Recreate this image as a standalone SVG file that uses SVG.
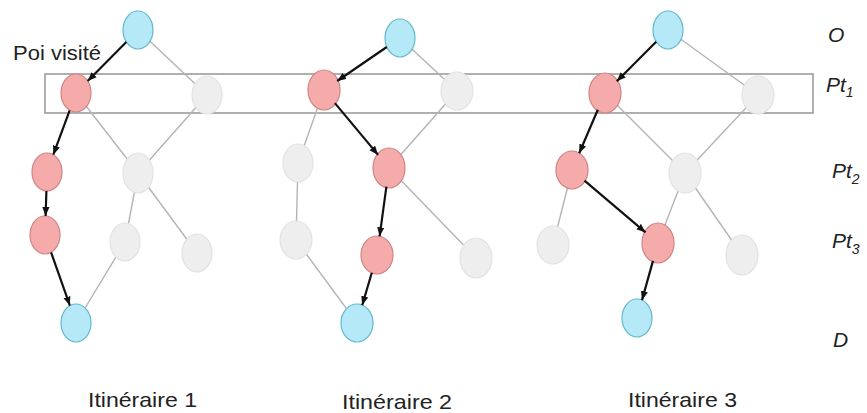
<svg xmlns="http://www.w3.org/2000/svg" width="867" height="413" viewBox="0 0 867 413">
<style>
.blue{fill:#b5e9f7;stroke:#62b9cc;stroke-width:1.2}
.red{fill:#f6abab;stroke:#cf8484;stroke-width:1.2}
.grey{fill:#eeeeee;stroke:#e2e2e2;stroke-width:1.2}
.gl{stroke:#b4b4b4;stroke-width:1.4;fill:none}
.ar{stroke:#111;stroke-width:2.2;fill:none;marker-end:url(#ah)}
.lbl{font-family:"Liberation Sans",Arial,sans-serif;fill:#222}
.lvl{font-family:"Liberation Sans",Arial,sans-serif;font-style:italic;fill:#222;font-size:21px}
</style>
<defs>
<marker id="ah" viewBox="0 0 10 8" refX="10" refY="4" markerWidth="9" markerHeight="8" markerUnits="userSpaceOnUse" orient="auto">
<path d="M0,0 L10,4 L0,8 z" fill="#111"/>
</marker>
</defs>
<rect x="45" y="74" width="768" height="39" fill="none" stroke="#9c9c9c" stroke-width="1.6"/>
<g id="connectors">
<g id="grey-edges">
<line class="gl" x1="138" y1="30" x2="207" y2="95"/>
<line class="gl" x1="76" y1="93" x2="138" y2="173"/>
<line class="gl" x1="207" y1="95" x2="138" y2="173"/>
<line class="gl" x1="138" y1="173" x2="125" y2="242"/>
<line class="gl" x1="138" y1="173" x2="197" y2="253"/>
<line class="gl" x1="125" y1="242" x2="76" y2="323"/>
<line class="gl" x1="400" y1="38" x2="457" y2="91"/>
<line class="gl" x1="324" y1="90" x2="298" y2="163"/>
<line class="gl" x1="457" y1="91" x2="389" y2="168"/>
<line class="gl" x1="298" y1="163" x2="296" y2="240"/>
<line class="gl" x1="389" y1="168" x2="476" y2="258"/>
<line class="gl" x1="296" y1="240" x2="357" y2="323"/>
<line class="gl" x1="668" y1="30" x2="758" y2="95"/>
<line class="gl" x1="605" y1="93" x2="685" y2="173"/>
<line class="gl" x1="758" y1="95" x2="685" y2="173"/>
<line class="gl" x1="572" y1="170" x2="553" y2="245"/>
<line class="gl" x1="685" y1="173" x2="658" y2="243"/>
<line class="gl" x1="685" y1="173" x2="742" y2="255"/>
</g>
</g>
<g id="it1-O"><ellipse class="blue" cx="138" cy="30" rx="15" ry="19"/></g>
<g id="it1-pt1a"><ellipse class="red" cx="76" cy="93" rx="15" ry="19"/></g>
<g id="it1-pt1b"><ellipse class="grey" cx="207" cy="95" rx="15" ry="19"/></g>
<g id="it1-pt2a"><ellipse class="red" cx="47" cy="172" rx="15" ry="19"/></g>
<g id="it1-pt2b"><ellipse class="grey" cx="138" cy="173" rx="15" ry="20"/></g>
<g id="it1-pt3a"><ellipse class="red" cx="45" cy="235" rx="15" ry="19"/></g>
<g id="it1-pt3b"><ellipse class="grey" cx="125" cy="242" rx="15" ry="19"/></g>
<g id="it1-pt3c"><ellipse class="grey" cx="197" cy="253" rx="15" ry="19"/></g>
<g id="it1-D"><ellipse class="blue" cx="76" cy="323" rx="15" ry="19"/></g>
<g id="it2-O"><ellipse class="blue" cx="400" cy="38" rx="15" ry="19"/></g>
<g id="it2-pt1a"><ellipse class="red" cx="324" cy="90" rx="16" ry="20"/></g>
<g id="it2-pt1b"><ellipse class="grey" cx="457" cy="91" rx="16" ry="19"/></g>
<g id="it2-pt2a"><ellipse class="grey" cx="298" cy="163" rx="15" ry="19"/></g>
<g id="it2-pt2b"><ellipse class="red" cx="389" cy="168" rx="16" ry="20"/></g>
<g id="it2-pt3a"><ellipse class="grey" cx="296" cy="240" rx="16" ry="19"/></g>
<g id="it2-pt3b"><ellipse class="red" cx="377" cy="255" rx="16" ry="19"/></g>
<g id="it2-pt3c"><ellipse class="grey" cx="476" cy="258" rx="16" ry="20"/></g>
<g id="it2-D"><ellipse class="blue" cx="357" cy="323" rx="16" ry="19"/></g>
<g id="it3-O"><ellipse class="blue" cx="668" cy="30" rx="15" ry="19"/></g>
<g id="it3-pt1a"><ellipse class="red" cx="605" cy="93" rx="16" ry="20"/></g>
<g id="it3-pt1b"><ellipse class="grey" cx="758" cy="95" rx="16" ry="19"/></g>
<g id="it3-pt2a"><ellipse class="red" cx="572" cy="170" rx="16" ry="19"/></g>
<g id="it3-pt2b"><ellipse class="grey" cx="685" cy="173" rx="16" ry="20"/></g>
<g id="it3-pt3a"><ellipse class="grey" cx="553" cy="245" rx="16" ry="19"/></g>
<g id="it3-pt3b"><ellipse class="red" cx="658" cy="243" rx="16" ry="20"/></g>
<g id="it3-pt3c"><ellipse class="grey" cx="742" cy="255" rx="16" ry="20"/></g>
<g id="it3-D"><ellipse class="blue" cx="637" cy="318" rx="15" ry="19"/></g>
<g id="path-arrows">
<line class="ar" x1="126.3" y1="41.9" x2="87.7" y2="81.1"/>
<line class="ar" x1="69.7" y1="110.3" x2="53.3" y2="154.7"/>
<line class="ar" x1="46.4" y1="191" x2="45.6" y2="216"/>
<line class="ar" x1="51.1" y1="252.4" x2="69.9" y2="305.6"/>
<line class="ar" x1="386.8" y1="47" x2="337.2" y2="81"/>
<line class="ar" x1="334.9" y1="103.1" x2="378.1" y2="154.9"/>
<line class="ar" x1="386.4" y1="186.7" x2="379.6" y2="236.3"/>
<line class="ar" x1="371.8" y1="272.8" x2="362.2" y2="305.2"/>
<line class="ar" x1="656.2" y1="41.8" x2="616.8" y2="81.2"/>
<line class="ar" x1="597.8" y1="109.7" x2="579.2" y2="153.3"/>
<line class="ar" x1="584.5" y1="180.6" x2="645.5" y2="232.4"/>
<line class="ar" x1="653" y1="260.9" x2="642" y2="300.1"/>
</g>
<g id="labels">
<text class="lbl" x="13" y="60" font-size="21" textLength="88" lengthAdjust="spacingAndGlyphs">Poi visité</text>
<text class="lbl" x="88" y="407" font-size="21" textLength="109" lengthAdjust="spacingAndGlyphs">Itinéraire 1</text>
<text class="lbl" x="342" y="409" font-size="21" textLength="110" lengthAdjust="spacingAndGlyphs">Itinéraire 2</text>
<text class="lbl" x="628" y="407" font-size="21" textLength="109" lengthAdjust="spacingAndGlyphs">Itinéraire 3</text>
<text class="lvl" x="828" y="42">O</text>
<text class="lvl" x="826" y="92">Pt<tspan font-size="14" dy="5">1</tspan></text>
<text class="lvl" x="832" y="178">Pt<tspan font-size="14" dy="6">2</tspan></text>
<text class="lvl" x="832" y="248">Pt<tspan font-size="14" dy="6">3</tspan></text>
<text class="lvl" x="833" y="347">D</text>
</g>
</svg>
